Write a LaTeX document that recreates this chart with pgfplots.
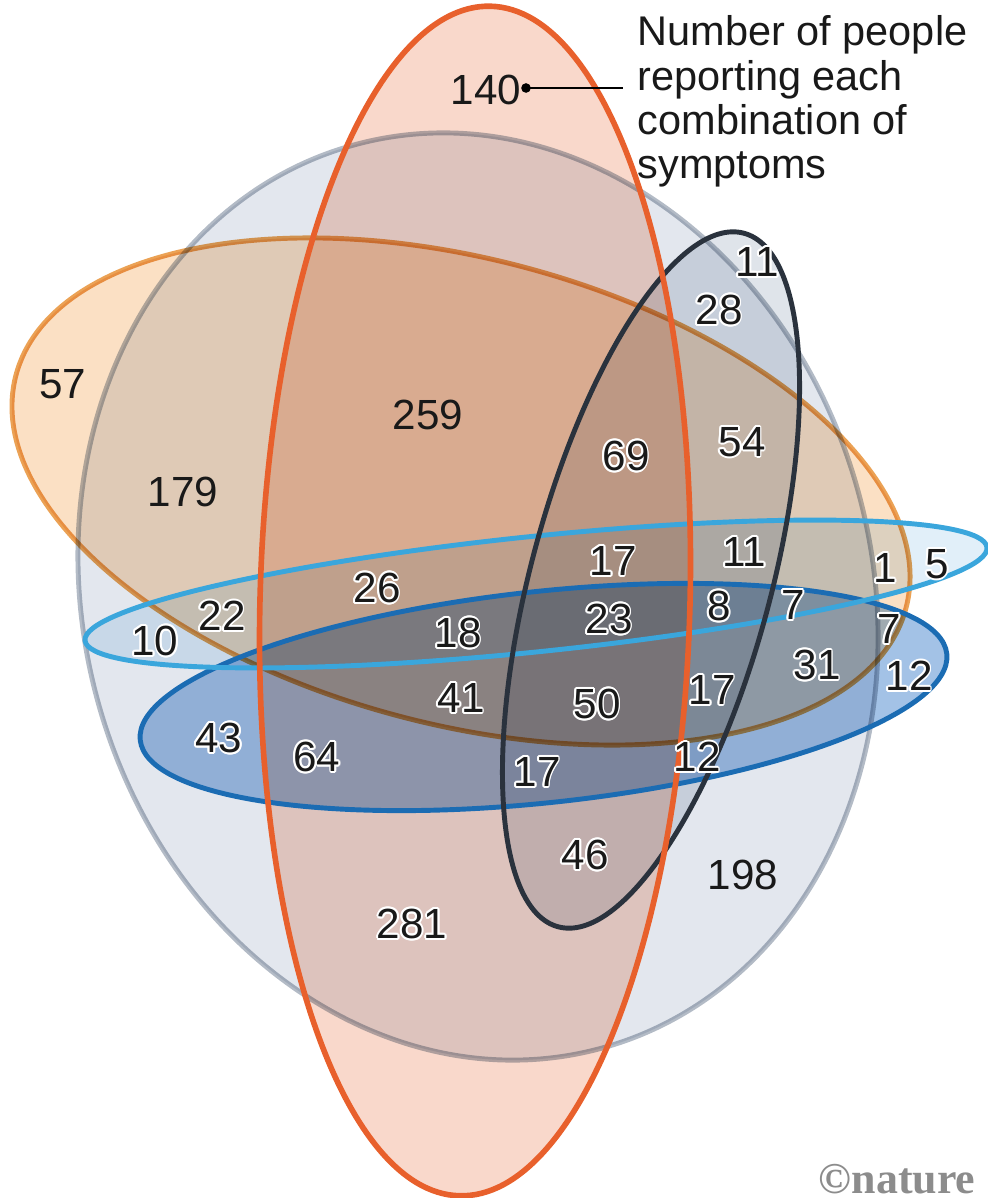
\documentclass[border=0pt]{standalone}
\usepackage{pgfplots}
\pgfplotsset{compat=1.18}
\usepackage{pgfplotstable}
\usepackage{fontspec}
\setmainfont{Liberation Sans}
\newfontfamily\logofont{Liberation Serif}
\definecolor{grayS}{HTML}{B3BBC6}
\definecolor{grayF}{HTML}{E3E7EE}
\definecolor{orS}{HTML}{EBA255}
\definecolor{orF}{HTML}{FBE0C4}
\definecolor{redS}{HTML}{E8602C}
\definecolor{redF}{HTML}{F9D8CB}
\definecolor{navS}{HTML}{2A323D}
\definecolor{navF}{HTML}{DFE4EA}
\definecolor{lbS}{HTML}{3AA6DC}
\definecolor{lbF}{HTML}{E1EFF9}
\definecolor{dbS}{HTML}{1B6CB3}
\definecolor{dbF}{HTML}{A3C2E6}

\pgfplotstableread{
x y label
757 262 11
719 310 28
742 442 54
626 456 69
613 561 17
744 552 11
377 588 26
222 616 22
155 641 10
458 633 18
609 619 23
719 606 8
793 605 7
885 568 1
937 564 5
889 629 7
909 676 12
817 665 31
712 690 17
461 698 41
597 704 50
219 738 43
317 757 64
537 772 17
697 757 12
585 855 46
412 924 281
}\halolabels

\pgfplotstableread{
x y label
63 384 57
183 492 179
428 415 259
743 875 198
486 90 140
}\plainlabels

\begin{document}
\begin{tikzpicture}
\begin{axis}[width=9.87cm,height=11.98cm,scale only axis,
  xmin=0,xmax=987,ymin=0,ymax=1198,y dir=reverse,
  hide axis,clip=false]
% grey
\fill[grayF,blend mode=multiply,rotate around={15.3:(axis cs:478,596.5)}] (axis cs:478,596.5) ellipse [x radius=3.944cm,y radius=4.683cm];
\draw[grayS,line width=1.4pt,blend mode=multiply,rotate around={15.3:(axis cs:478,596.5)}] (axis cs:478,596.5) ellipse [x radius=3.944cm,y radius=4.683cm];
% orange
\fill[orF,blend mode=multiply,rotate around={-14.6:(axis cs:461,491.5)}] (axis cs:461,491.5) ellipse [x radius=4.60cm,y radius=2.33cm];
\draw[orS,line width=1.4pt,blend mode=multiply,rotate around={-14.6:(axis cs:461,491.5)}] (axis cs:461,491.5) ellipse [x radius=4.60cm,y radius=2.33cm];
% red fill
\fill[redF,blend mode=multiply,rotate around={-1.5:(axis cs:475,601)}] (axis cs:475,601) ellipse [x radius=2.15cm,y radius=5.95cm];
% navy fill
\fill[navF,blend mode=multiply,rotate around={-15:(axis cs:651,580)}] (axis cs:651,580) ellipse [x radius=1.20cm,y radius=3.59cm];
% light blue fill
\fill[lbF,blend mode=multiply,rotate around={5.9:(axis cs:536,594)}] (axis cs:536,594) ellipse [x radius=4.534cm,y radius=0.577cm];
% dark blue fill
\fill[dbF,blend mode=multiply,rotate around={6.1:(axis cs:543.5,697)}] (axis cs:543.5,697) ellipse [x radius=4.056cm,y radius=1.057cm];
% strokes
\draw[dbS,line width=1.4pt,rotate around={6.1:(axis cs:543.5,697)}] (axis cs:543.5,697) ellipse [x radius=4.056cm,y radius=1.057cm];
\draw[lbS,line width=1.4pt,rotate around={5.9:(axis cs:536,594)}] (axis cs:536,594) ellipse [x radius=4.534cm,y radius=0.577cm];
\draw[navS,line width=1.4pt,rotate around={-15:(axis cs:651,580)}] (axis cs:651,580) ellipse [x radius=1.20cm,y radius=3.59cm];
\draw[redS,line width=1.6pt,rotate around={-1.5:(axis cs:475,601)}] (axis cs:475,601) ellipse [x radius=2.15cm,y radius=5.95cm];

% labels with white halo
\pgfplotsinvokeforeach{0,30,...,330}{
\addplot[only marks,mark=none,nodes near coords,point meta=explicit symbolic,
  nodes near coords style={anchor=center,text=white,font=\fontsize{12}{14}\selectfont,shift={(#1:0.55pt)}}]
  table[x=x,y=y,meta=label]{\halolabels};
}
\addplot[only marks,mark=none,nodes near coords,point meta=explicit symbolic,
  nodes near coords style={anchor=center,text=black!90,font=\fontsize{12}{14}\selectfont}]
  table[x=x,y=y,meta=label]{\halolabels};
\addplot[only marks,mark=none,nodes near coords,point meta=explicit symbolic,
  nodes near coords style={anchor=center,text=black!90,font=\fontsize{12}{14}\selectfont}]
  table[x=x,y=y,meta=label]{\plainlabels};

% leader line
\addplot[black,line width=0.5pt,mark=*,mark size=1.1pt,mark indices={1}] coordinates {(526,88) (623,88)};
\node[anchor=north west,align=left,inner sep=0pt,font=\fontsize{11.8}{12.6}\selectfont,text=black!90] at (axis cs:637,15) {Number of people\\reporting each\\combination of\\symptoms};
\node[anchor=base east,inner sep=0pt,text=black!45,font=\logofont\bfseries\fontsize{12.5}{12.5}\selectfont] at (axis cs:976,1193) {\copyright nature};
\end{axis}
\pgfresetboundingbox
\path[use as bounding box] (current axis.south west) rectangle (current axis.north east);
\end{tikzpicture}
\end{document}
